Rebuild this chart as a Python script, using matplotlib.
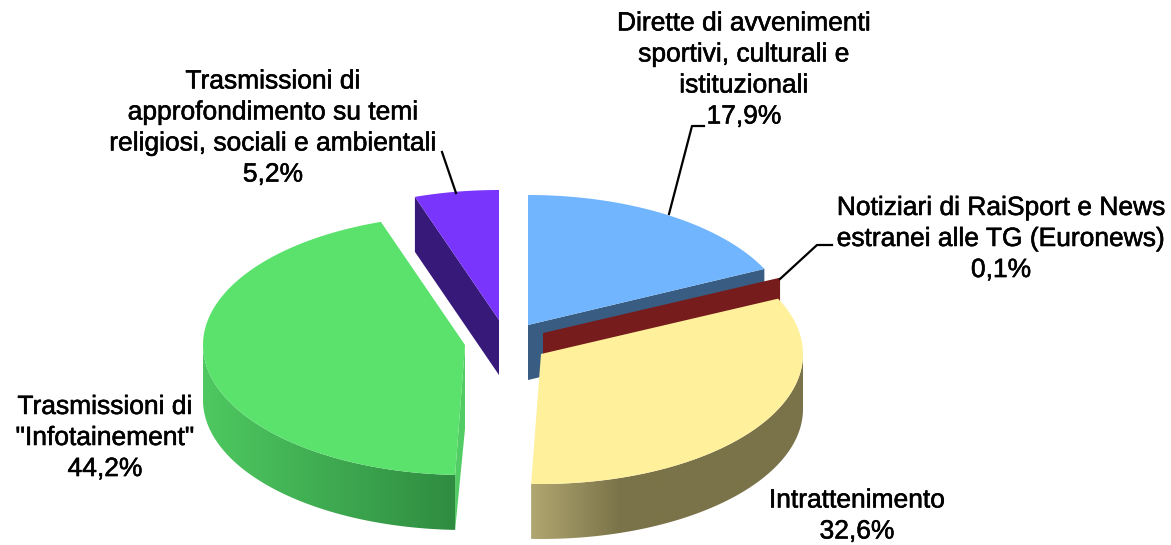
import numpy as np
import matplotlib
matplotlib.use('Agg')
import matplotlib.pyplot as plt
import matplotlib.patheffects as pe
from matplotlib.colors import to_rgb
from matplotlib.patches import Polygon

plt.rcParams['font.family'] = ['Liberation Sans', 'DejaVu Sans']

categories = ['Dirette di avvenimenti\nsportivi, culturali e\nistituzionali',
              'Notiziari di RaiSport e News\nestranei alle TG (Euronews)',
              'Intrattenimento',
              'Trasmissioni di\n"Infotainement"',
              'Trasmissioni di\napprofondimento su temi\nreligiosi, sociali e ambientali']
values = [17.9, 0.1, 32.6, 44.2, 5.2]
value_labels = ['17,9%', '0,1%', '32,6%', '44,2%', '5,2%']

# slice apex in pixels (every slice is pulled out on its own)
centers = [(528, 325), (543, 333), (541, 354), (465, 345), (499, 320)]
label_pos = [(744, 70), (1001, 239), (857, 516), (105, 438), (273, 128)]
tops = ['#71b5ff', '#761c1c', '#fff09b', '#5ae26c', '#7a35fc']
cuts = ['#395d82', '#761c1c', '#7a7349', '#52cc64', '#37197a']
# wall colour from left to right end of a slice
wall_left = {2: '#b0a670', 3: '#4ec860'}
wall_right = {2: '#7a7349', 3: '#2f8c41'}
wall_span = {2: (532, 620), 3: (205, 456)}

RX, RY = 262, 130
DEPTH = 55


def rim(cx, cy, a0, a1, n=200):
    t = np.radians(np.linspace(a0, a1, n))
    return cx + RX*np.sin(t), cy - RY*np.cos(t)


def add_wall(i, cx, cy, a0, a1):
    # curved outer wall, only the front half shows
    x, y = rim(cx, cy, max(a0, 90), min(a1, 270))
    x0, x1 = wall_span[i]
    xs = np.arange(x.min(), x.max() + 1)
    f = np.clip((xs - x0)/(x1 - x0), 0, 1)[None, :, None]
    c0 = np.array(to_rgb(wall_left[i]))
    c1 = np.array(to_rgb(wall_right[i]))
    img = ax.imshow(c0 + (c1 - c0)*f, aspect='auto', zorder=i + 1,
                    extent=(xs[0], xs[-1], y.max() + DEPTH, y.min()))
    shape = Polygon(np.column_stack([np.r_[x, x[::-1]], np.r_[y, y[::-1] + DEPTH]]),
                    fc='none', ec='none', transform=ax.transData)
    ax.add_patch(shape)
    img.set_clip_path(shape)


fig = plt.figure(figsize=(11.71, 5.45), dpi=100)
ax = fig.add_axes([0, 0, 1, 1])

angles = np.concatenate([[0], np.cumsum(values)])
angles = angles * 360 / angles[-1]

for i in range(5):
    cx, cy = centers[i]
    a0, a1 = angles[i], angles[i+1]
    x, y = rim(cx, cy, a0, a1)

    # cut face that can be seen
    if i in (0, 1):
        ax.add_patch(Polygon([(cx, cy), (x[-1], y[-1]), (x[-1], y[-1]+DEPTH), (cx, cy+DEPTH)],
                             fc=cuts[i], ec='none', zorder=i+1))
    if i == 4:
        ax.add_patch(Polygon([(cx, cy), (x[0], y[0]), (x[0], y[0]+DEPTH), (cx, cy+DEPTH)],
                             fc=cuts[i], ec='none', zorder=i+1))
    if i == 3:
        ax.add_patch(Polygon([(cx, cy), (cx, cy+84), (x[0], y[0]+DEPTH), (x[0], y[0])],
                             fc=cuts[i], ec='none', zorder=i+1))

    if i in wall_left:
        add_wall(i, cx, cy, a0, a1)

    # top surface (the 0,1% slice shows only its cut face)
    if i != 1:
        ax.add_patch(Polygon(np.column_stack([np.r_[cx, x], np.r_[cy, y]]),
                             fc=tops[i], ec='none', zorder=i+1.5))

# leader lines
leader_x = [[669, 692, 704], [780, 817, 832], [456, 442]]
leader_y = [[214, 126, 126], [279, 245, 245], [193, 152]]
for lx, ly in zip(leader_x, leader_y):
    ax.plot(lx, ly, color='black', lw=1.6, zorder=10)

for name, val, (tx, ty) in zip(categories, value_labels, label_pos):
    ax.text(tx, ty, name + '\n' + val, ha='center', va='center', fontsize=19,
            color='black', linespacing=1.37, zorder=11,
            path_effects=[pe.withStroke(linewidth=0.4, foreground='black')])

ax.set_xlim(0, 1171)
ax.set_ylim(545, 0)
ax.axis('off')

fig.savefig('out.png', dpi=100)
